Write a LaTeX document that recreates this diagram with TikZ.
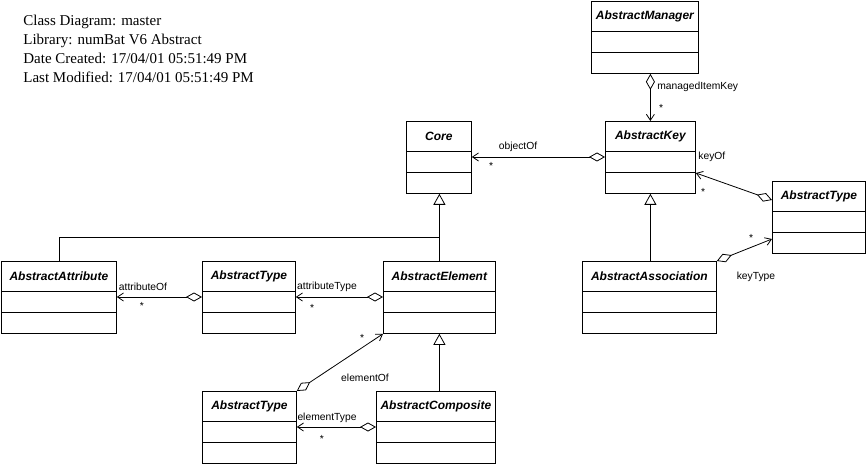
\documentclass[tikz,border=0pt]{standalone}
\usepackage{fontspec}
\setmainfont{Liberation Serif}
\newfontfamily\arialf{Liberation Sans}
\usetikzlibrary{arrows.meta,calc}
\tikzset{
  x=1pt,y=-1pt,
  every path/.style={line width=0.8pt},
  classbox/.style={draw,inner sep=0pt,minimum height=72pt,anchor=north west},
  ctitle/.style={font=\arialf\bfseries\itshape\fontsize{12}{14}\selectfont,inner sep=0pt},
  lbl/.style={font=\arialf\fontsize{10.3}{12}\selectfont,inner sep=0pt},
  starl/.style={font=\arialf\fontsize{10.3}{12}\selectfont,inner sep=0pt,anchor=base},
  hdr/.style={font=\fontsize{15}{18}\selectfont,inner sep=0pt,anchor=base west},
  gen/.style={-{Triangle[open,length=11pt,width=12pt]}},
  agg/.style={{Diamond[open,length=16pt,width=9pt]}-{Straight Barb[length=6pt,width=8pt]}},
}
\newcommand{\umlclass}[5]{%
  \node[classbox,minimum width=#4pt] (#1) at (#2,#3) {};
  \node[ctitle] (#1-t) at ([yshift=-15pt]#1.north) {#5};
  \draw ([yshift=-30pt]#1.north west) -- ([yshift=-30pt]#1.north east);
  \draw ([yshift=-51pt]#1.north west) -- ([yshift=-51pt]#1.north east);
}
\begin{document}
\begin{tikzpicture}
\useasboundingbox (0,0) rectangle (867,465);
% header
\node[hdr] (h1) at (23,26) {Class Diagram: master};
\node[hdr] (h2) at (23,45) {Library: numBat V6 Abstract};
\node[hdr] (h3) at (23,64) {Date Created: 17/04/01 05:51:49 PM};
\node[hdr] (h4) at (23,83) {Last Modified: 17/04/01 05:51:49 PM};
% classes
\umlclass{mgr}{591}{1}{107}{AbstractManager}
\umlclass{key}{605}{121}{90}{AbstractKey}
\umlclass{core}{406}{121}{65}{Core}
\umlclass{typeR}{772}{181}{93}{AbstractType}
\umlclass{assoc}{582}{261}{134}{AbstractAssociation}
\umlclass{attr}{1}{261}{115}{AbstractAttribute}
\umlclass{typeM}{202}{261}{93}{AbstractType}
\umlclass{elem}{383}{261}{112}{AbstractElement}
\umlclass{typeB}{202}{391}{94}{AbstractType}
\umlclass{comp}{376}{391}{119}{AbstractComposite}
% generalizations
\coordinate (j) at (439,237);
\draw[gen] (elem.north) -- (elem.north |- core.south);
\draw (attr.north) |- (j);
\draw[gen] (elem.south |- comp.north) -- (elem.south);
\draw[gen] (key.south |- assoc.north) -- (key.south);
% associations
\draw[agg] (key.north |- mgr.south) -- (key.north);
\draw[agg] ([yshift=-36pt]key.north west) -- ([yshift=-36pt]core.north east);
\draw[agg] ([yshift=-19pt]typeR.north west) -- ([yshift=-52pt]key.north east);
\draw[agg] (assoc.north east) -- ([yshift=-58pt]typeR.north west);
\draw[agg] ([yshift=-36pt]typeM.north west) -- ([yshift=-36pt]attr.north east);
\draw[agg] ([yshift=-36pt]elem.north west) -- ([yshift=-36pt]typeM.north east);
\draw[agg] (typeB.north east) -- (elem.south west);
\draw[agg] ([yshift=-36pt]comp.north west) -- ([yshift=-36pt]typeB.north east);
% labels
\node[lbl,anchor=west] (l1) at (657,87) {managedItemKey};
\node[starl] (s1) at (661,112) {*};
\node[lbl] (l2) at (518,147) {objectOf};
\node[starl] (s2) at (491,170) {*};
\node[lbl,anchor=west] (l3) at (698,157) {keyOf};
\node[starl] (s3) at (703,196) {*};
\node[starl] (s4) at (751,241) {*};
\node[lbl] (l4) at (756,277) {keyType};
\node[lbl] (l5) at (143,287) {attributeOf};
\node[starl] (s5) at (142,309) {*};
\node[lbl] (l6) at (327,287) {attributeType};
\node[starl] (s6) at (312,311) {*};
\node[starl] (s7) at (362,341) {*};
\node[lbl] (l7) at (365,378) {elementOf};
\node[lbl] (l8) at (327,418) {elementType};
\node[starl] (s8) at (322,442) {*};
\end{tikzpicture}
\end{document}
